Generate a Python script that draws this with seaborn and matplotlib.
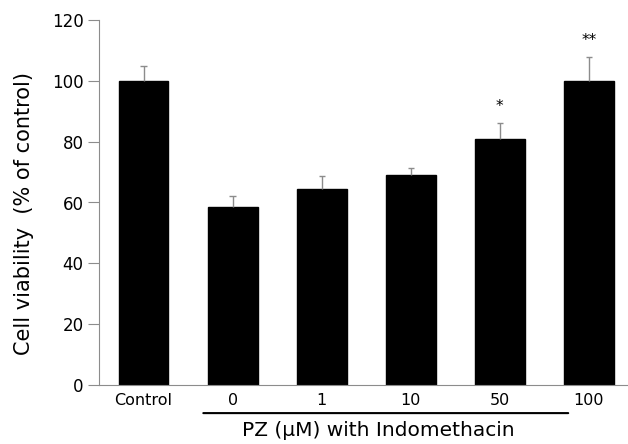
import matplotlib
matplotlib.use("Agg")
import matplotlib.pyplot as plt
import seaborn as sns
import pandas as pd
import numpy as np

categories = ["Control", "0", "1", "10", "50", "100"]
viability = [100.0, 58.6, 64.5, 69.2, 80.9, 99.9]
errors = [5.0, 3.6, 4.2, 2.1, 5.2, 7.9]
stars = ["", "", "", "", "*", "**"]
yticks = [0, 20, 40, 60, 80, 100, 120]
ylabel = "Cell viability  (% of control)"
group_label = "PZ (\u03bcM) with Indomethacin"

sns.set_style("white")
plt.rcParams["font.family"] = ["DejaVu Sans"]
plt.rcParams["text.color"] = "black"
plt.rcParams["axes.labelcolor"] = "black"
plt.rcParams["xtick.color"] = "black"
plt.rcParams["ytick.color"] = "black"

df = pd.DataFrame({"cat": categories, "val": viability})

fig = plt.figure(figsize=(6.28, 4.44), dpi=100)
ax = fig.add_axes([99 / 628, 1 - 385 / 444, 1 - 99 / 628, (385 - 20) / 444])

sns.barplot(data=df, x="cat", y="val", color="black", width=0.56,
            errorbar=None, ax=ax, saturation=1)
for p in ax.patches:
    p.set_edgecolor("black")

xs = np.arange(len(categories))
vals = np.array(viability)
errs = np.array(errors)
tops = vals + errs
ax.vlines(xs, vals, tops, color="#8c8c8c", lw=1.0, zorder=1)
ax.hlines(tops, xs - 0.035, xs + 0.035, color="#8c8c8c", lw=1.0, zorder=1)
for x, t, s in zip(xs, tops, stars):
    if s:
        ax.text(x, t + 5.3, s, ha="center", va="center", fontsize=11)

ax.set_ylim(0, 120)
ax.set_xlim(-0.5, 5.44)
ax.set_yticks(yticks)
ax.set_yticklabels([str(t) for t in yticks], fontsize=12)
ax.tick_params(axis="y", direction="out", length=8, width=0.8, color="#8c8c8c",
               labelcolor="black", left=True, pad=3)
ax.tick_params(axis="x", length=0, labelsize=11.5, labelcolor="black", pad=6)
ax.set_xlabel("")
ax.set_ylabel(ylabel, fontsize=15, color="black")
ax.yaxis.set_label_coords(-0.122, 0.47)

for side in ["top", "right"]:
    ax.spines[side].set_visible(False)
for side in ["left", "bottom"]:
    ax.spines[side].set_color("#8c8c8c")
    ax.spines[side].set_linewidth(0.8)

# group line and label under PZ doses
ax.annotate("", xy=(0.64, -0.077), xycoords=("data", "axes fraction"),
            xytext=(4.8, -0.077), textcoords=("data", "axes fraction"),
            arrowprops=dict(arrowstyle="-", color="black", lw=1.5))
ax.text(2.64, -0.098, group_label, transform=ax.get_xaxis_transform(),
        ha="center", va="top", fontsize=14.5, color="black")

fig.savefig("out.png", dpi=100)
